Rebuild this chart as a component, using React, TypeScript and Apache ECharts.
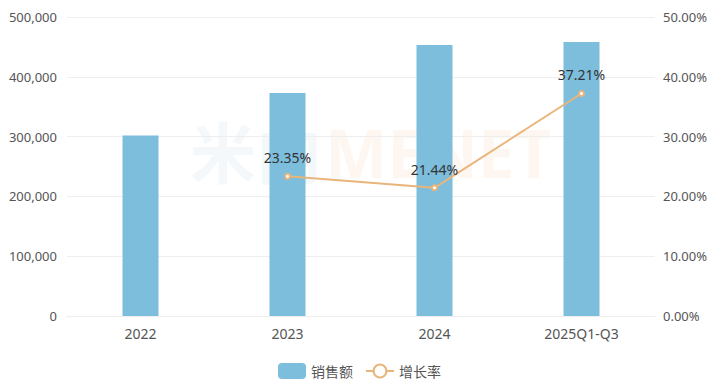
import React, { useEffect, useRef } from "react";
import * as echarts from "echarts";

const categories = ["2022", "2023", "2024", "2025Q1-Q3"];
const sales = [302000, 373000, 453000, 458000];
const growth: (number | null)[] = [null, 23.35, 21.44, 37.21];

const watermarkSvg =
  "data:image/svg+xml;charset=utf-8," +
  encodeURIComponent(
    '<svg xmlns="http://www.w3.org/2000/svg" width="360" height="80">' +
      '<text x="0" y="62" font-family="Noto Sans CJK SC, sans-serif" font-size="66" font-weight="bold" fill="rgb(120,160,190)" fill-opacity="0.08">米内</text>' +
      '<text x="135" y="62" font-family="Noto Sans, sans-serif" font-size="66" font-weight="bold" fill="rgb(240,170,100)" fill-opacity="0.09">MENET</text>' +
      "</svg>"
  );

export default function App() {
  const ref = useRef<HTMLDivElement>(null);
  useEffect(() => {
    if (!ref.current) return;
    const chart = echarts.init(ref.current, null, { renderer: "svg" });
    const font = "'Noto Sans', 'Noto Sans CJK SC', sans-serif";
    chart.setOption({
      animation: false,
      textStyle: { fontFamily: font },
      grid: { left: 67, right: 64, top: 17, bottom: 72 },
      graphic: [
        {
          type: "image",
          left: 190,
          top: 116,
          z: -1,
          style: { image: watermarkSvg, width: 360, height: 80 },
        },
      ],
      legend: {
        bottom: 4,
        left: "center",
        itemWidth: 28,
        itemHeight: 16,
        itemGap: 12,
        textStyle: { color: "#555", fontSize: 14, fontFamily: font },
        data: [
          { name: "销售额", icon: "roundRect" },
          { name: "增长率" },
        ],
      },
      xAxis: {
        type: "category",
        data: categories,
        axisTick: { show: false },
        axisLine: { lineStyle: { color: "#eeeeee" } },
        axisLabel: { color: "#555", fontSize: 14, margin: 10 },
      },
      yAxis: [
        {
          type: "value",
          min: 0,
          max: 500000,
          interval: 100000,
          axisLabel: {
            color: "#555",
            fontSize: 13,
            margin: 10,
            formatter: (v: number) => v.toLocaleString("en-US"),
          },
          splitLine: { lineStyle: { color: "#eeeeee" } },
        },
        {
          type: "value",
          min: 0,
          max: 50,
          interval: 10,
          axisLabel: {
            color: "#555",
            fontSize: 13,
            margin: 8,
            formatter: (v: number) => v.toFixed(2) + "%",
          },
          splitLine: { show: false },
        },
      ],
      series: [
        {
          name: "销售额",
          type: "bar",
          data: sales,
          barWidth: 36,
          itemStyle: { color: "#7dbedd" },
        },
        {
          name: "增长率",
          type: "line",
          yAxisIndex: 1,
          data: growth,
          symbol: "emptyCircle",
          symbolSize: 5,
          lineStyle: { color: "#e9b57a", width: 2 },
          itemStyle: { color: "#e9b57a", borderColor: "#e9b57a" },
          label: {
            show: true,
            position: "top",
            distance: 8,
            color: "#333",
            fontSize: 14,
            formatter: (p: any) => p.value.toFixed(2) + "%",
          },
        },
      ],
    });
    return () => chart.dispose();
  }, []);
  return <div ref={ref} style={{ width: 719, height: 388, margin: -8 }} />;
}
